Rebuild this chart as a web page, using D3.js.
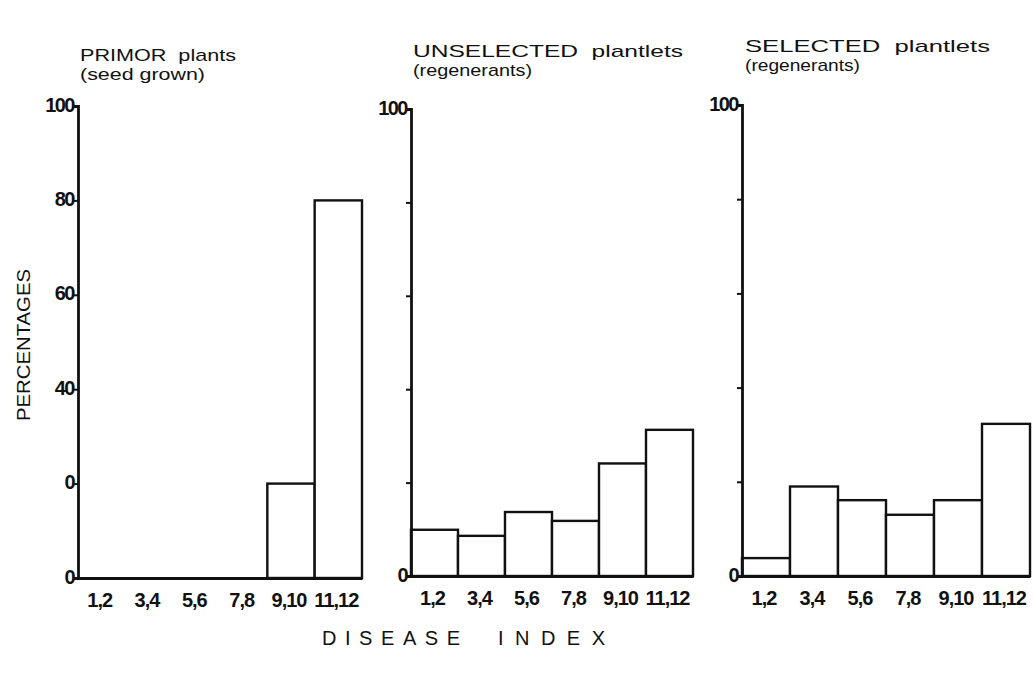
<!DOCTYPE html>
<html>
<head>
<meta charset="utf-8">
<script src="https://cdn.jsdelivr.net/npm/d3@7"></script>
<style>
  html, body { margin: 0; padding: 0; background: #fff; }
  svg { display: block; }
  text { fill: #111; }
</style>
</head>
<body>
<svg id="chart" width="1034" height="674"></svg>
<script>
// ---- data ----
const categories = ["1,2", "3,4", "5,6", "7,8", "9,10", "11,12"];
const primorValues = [0, 0, 0, 0, 20, 80];
const unselectedValues = [9.9, 8.6, 13.7, 11.8, 24.1, 31.3];
const selectedValues = [3.8, 19.0, 16.1, 13.0, 16.1, 32.3];
const yTickValues = [0, 20, 40, 60, 80, 100];
const primorTickLabels = ["0", "0", "40", "60", "80", "100"];
const otherTickLabels = ["0", "", "", "", "", "100"];
const titleLine1 = ["PRIMOR  plants", "UNSELECTED  plantlets", "SELECTED  plantlets"];
const titleLine2 = ["(seed grown)", "(regenerants)", "(regenerants)"];
const yAxisTitle = "PERCENTAGES";
const xAxisTitle = ["DISEASE", "INDEX"];

// ---- layout ----
const panels = [
  { values: primorValues, ticks: primorTickLabels, x0: 78, x1: 362, yTop: 106, yBot: 578,
    t1: { x: 80, y: 61, w: 156 }, t2: { x: 80, y: 80, w: 125 } },
  { values: unselectedValues, ticks: otherTickLabels, x0: 411, x1: 693, yTop: 109, yBot: 576,
    t1: { x: 413, y: 57, w: 270 }, t2: { x: 413, y: 76, w: 119 } },
  { values: selectedValues, ticks: otherTickLabels, x0: 742, x1: 1030, yTop: 105, yBot: 576,
    t1: { x: 745, y: 52, w: 245 }, t2: { x: 745, y: 71, w: 115 } }
];

const svg = d3.select("#chart");
const ink = "#111";
const font = "Liberation Sans, Arial, Helvetica, sans-serif";

panels.forEach((p, i) => {
  const x = d3.scaleBand().domain(categories).range([p.x0, p.x1]).padding(0);
  const y = d3.scaleLinear().domain([0, 100]).range([p.yBot, p.yTop]);
  const g = svg.append("g");

  // bars
  const data = categories.map((c, k) => ({ c, v: p.values[k] })).filter(d => d.v > 0);
  g.selectAll("rect.bar").data(data).enter().append("rect")
    .attr("class", "bar")
    .attr("x", d => x(d.c))
    .attr("y", d => y(d.v))
    .attr("width", x.bandwidth())
    .attr("height", d => y(0) - y(d.v))
    .attr("fill", "#fff")
    .attr("stroke", ink)
    .attr("stroke-width", 2.4);

  // y axis
  const yAxis = d3.axisLeft(y).tickValues(yTickValues).tickSize(5).tickSizeOuter(5)
    .tickFormat((d, k) => p.ticks[k]);
  const ya = g.append("g").attr("transform", `translate(${p.x0},0)`).call(yAxis);
  ya.select(".domain").attr("stroke", ink).attr("stroke-width", 2.8).attr("fill", "none");
  ya.selectAll(".tick line").attr("stroke", ink).attr("stroke-width", 2);
  ya.selectAll(".tick text")
    .attr("x", -4).attr("dy", null).attr("y", 5)
    .attr("font-family", font)
    .attr("font-weight", "bold").attr("font-size", 20).attr("fill", ink)
    .attr("letter-spacing", -1.5);

  // x axis (baseline + labels)
  const xAxis = d3.axisBottom(x).tickSize(0).tickSizeOuter(0);
  const xa = g.append("g").attr("transform", `translate(0,${p.yBot})`).call(xAxis);
  xa.select(".domain").attr("stroke", ink).attr("stroke-width", 3);
  xa.selectAll(".tick text")
    .attr("dy", null).attr("y", 29)
    .attr("font-family", font)
    .attr("font-weight", "bold").attr("font-size", 20).attr("fill", ink)
    .attr("letter-spacing", -1)
    .attr("dx", -2);

  // titles
  svg.append("text").attr("x", p.t1.x).attr("y", p.t1.y)
    .attr("textLength", p.t1.w).attr("lengthAdjust", "spacingAndGlyphs")
    .style("white-space", "pre")
    .attr("font-family", font)
    .attr("font-size", 17).text(titleLine1[i]);
  svg.append("text").attr("x", p.t2.x).attr("y", p.t2.y)
    .attr("textLength", p.t2.w).attr("lengthAdjust", "spacingAndGlyphs")
    .attr("font-family", font)
    .attr("font-size", 17).text(titleLine2[i]);
});

// y axis title
svg.append("text")
  .attr("transform", "translate(30,345) rotate(-90)")
  .attr("text-anchor", "middle")
  .attr("textLength", 152).attr("lengthAdjust", "spacingAndGlyphs")
  .attr("font-family", font)
  .attr("font-size", 19).text(yAxisTitle);

// x axis title
const xt = svg.append("text").attr("y", 645)
  .attr("font-family", font).attr("font-size", 20);
xt.append("tspan").attr("x", 322).attr("textLength", 138).attr("lengthAdjust", "spacing").text(xAxisTitle[0]);
xt.append("tspan").attr("x", 498).attr("textLength", 107).attr("lengthAdjust", "spacing").text(xAxisTitle[1]);
</script>
</body>
</html>
